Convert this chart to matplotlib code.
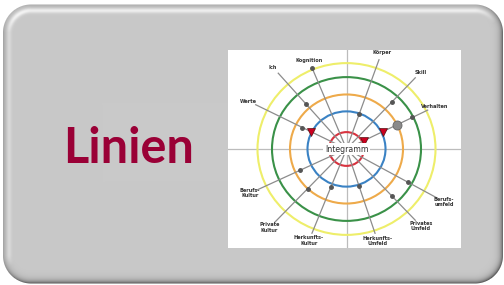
import numpy as np
import matplotlib.pyplot as plt
from matplotlib.patches import Ellipse

W, H = 504, 285

# --- data of the small Integramm diagram (pixel units of the inset) ---
spoke_labels = ['Kognition', 'Körper', 'Skill', 'Verhalten', 'Berufs-\numfeld',
                'Privates\nUmfeld', 'Herkunfts-\nUmfeld', 'Herkunfts-\nKultur',
                'Private\nKultur', 'Berufs-\nKultur', 'Werte', 'Ich']
spoke_angles = [113, 70, 46, 25.6, 331.6, 314, 288.7, 247.7, 225.6, 204.6, 154, 132]
spoke_lengths = [88, 95, 99, 90, 103, 99, 89, 91, 102, 98, 101, 102]

ring_radii = [17.5, 39, 56.5, 74.5, 89]
ring_colors = ['#d8333f', '#3a82c4', '#eeaa4a', '#3a9148', '#eeee6a']

dot_spokes = [0, 11, 10, 1, 2, 3, 4, 5, 6, 7, 8, 9]
dot_radii = [87.6, 61, 49, 37, 66, 73, 70, 66, 39, 41.6, 55.5, 51]
tri_spokes = [10, 3, 3]
tri_radii = [39, 40, 19]
big_spokes = [3]
big_radii = [55.5]

title = 'Linien'
center_label = 'Integramm'

# --- button background (rounded, bevelled) ---
yy, xx = np.mgrid[0:H, 0:W] + 0.5
cx, cy, bx, by, rad = 253, 144, 250, 139.5, 28
qx = np.abs(xx - cx) - (bx - rad)
qy = np.abs(yy - cy) - (by - rad)
d = np.hypot(np.maximum(qx, 0), np.maximum(qy, 0)) + np.minimum(np.maximum(qx, qy), 0) - rad
gy, gx = np.gradient(d)
nrm = np.hypot(gx, gy) + 1e-9
gx, gy = gx / nrm, gy / nrm
t = np.maximum(-d, 0)
rim = -(75 + 55 * (gx * 0.6 + gy * 0.8)) * np.exp(-t / 2.8)
ridge = np.maximum(0, -(gy * 0.8 + gx * 0.4)) * 50 * np.exp(-((t - 6) / 2.5) ** 2)
shade = np.clip(201 + rim + ridge, 0, 255)
a = np.clip(0.5 - d, 0, 1)
col = (a * shade + (1 - a) * 255) / 255.0
img = np.dstack([col, col, col])

fig = plt.figure(figsize=(W / 100, H / 100), dpi=100)
ax = fig.add_axes([0, 0, 1, 1])
ax.imshow(img, extent=(0, W, H, 0), interpolation='nearest')
ax.set_xlim(0, W)
ax.set_ylim(H, 0)
ax.axis('off')

ax.text(128.5, 163, title, ha='center', va='baseline', fontsize=35,
        fontweight='bold', family='Lato', color='#9a0036')

# --- inset diagram ---
x0, y0, x1, y1 = 228, 50, 461, 248
ox, oy = 346.5, 149
sq = 0.965
ins = fig.add_axes([x0 / W, 1 - y1 / H, (x1 - x0) / W, (y1 - y0) / H])
ins.set_xlim(x0, x1)
ins.set_ylim(y1, y0)
ins.set_facecolor('white')
ins.set_xticks([])
ins.set_yticks([])
for s in ins.spines.values():
    s.set_visible(False)

ins.axhline(oy, color='#bcbcbc', lw=0.9, zorder=1)
ins.axvline(ox, color='#bcbcbc', lw=0.9, zorder=1)

for r, c in zip(ring_radii, ring_colors):
    ins.add_patch(Ellipse((ox, oy), 2 * r, 2 * r * sq, fill=False, ec=c, lw=1.5, zorder=2))


def pos(k, r):
    ang = np.radians(spoke_angles[k])
    return ox + r * np.cos(ang), oy - r * np.sin(ang)


for k, lab in enumerate(spoke_labels):
    ex, ey = pos(k, spoke_lengths[k])
    ins.plot([ox, ex], [oy, ey], color='#8c8c8c', lw=0.9, zorder=3)
    lx, ly = pos(k, spoke_lengths[k] + 8)
    ins.text(lx, ly, lab, ha='center', va='center', fontsize=3.6, fontweight='bold',
             color='#333333', linespacing=1.1, zorder=6)

for k, r in zip(dot_spokes, dot_radii):
    px, py = pos(k, r)
    ins.plot(px, py, 'o', ms=2.5, color='#555555', zorder=4)
for k, r in zip(big_spokes, big_radii):
    px, py = pos(k, r)
    ins.plot(px, py, 'o', ms=6.5, color='#8a8a8a', mec='#666666', mew=0.6, zorder=4)
for k, r in zip(tri_spokes, tri_radii):
    px, py = pos(k, r)
    ins.plot(px, py, 'v', ms=5.5, color='#cc0020', mec='#551111', mew=0.5, zorder=5)

ins.text(ox, oy, center_label, ha='center', va='center', fontsize=5.6,
         color='#333333', zorder=7,
         bbox=dict(boxstyle='square,pad=0.25', fc='white', ec='none'))

fig.savefig('out.png', dpi=100)
